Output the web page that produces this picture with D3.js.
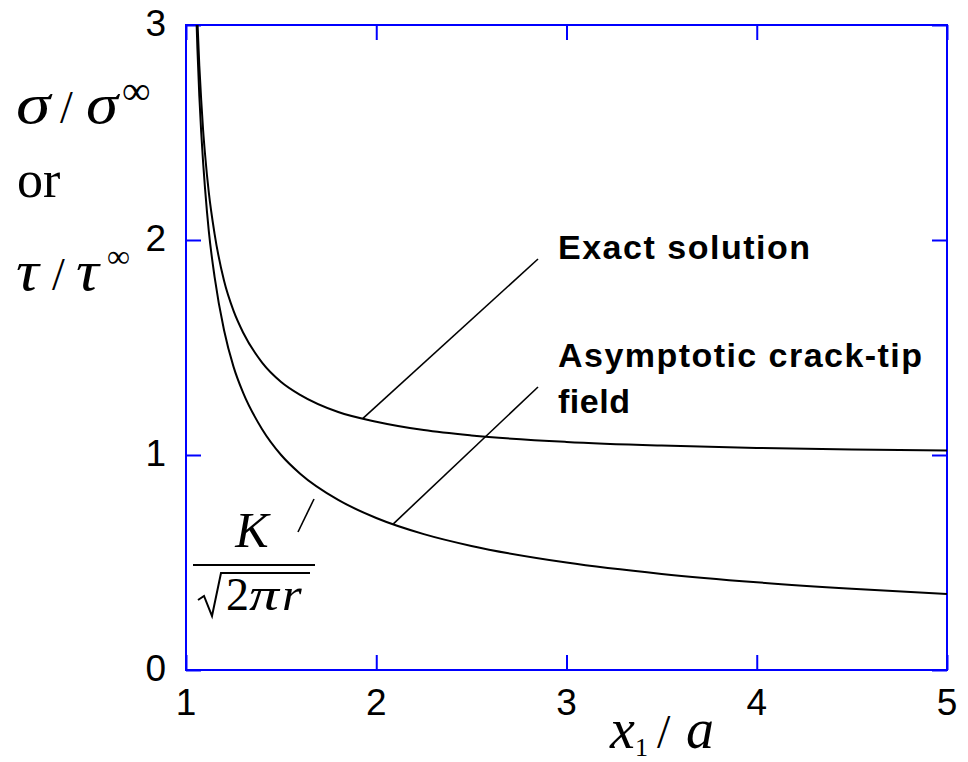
<!DOCTYPE html>
<html>
<head>
<meta charset="utf-8">
<script src="https://cdn.jsdelivr.net/npm/d3@7/dist/d3.min.js"></script>
<style>
  html, body { margin: 0; padding: 0; background: #fff; }
  svg { display: block; }
  .tick-label { font-family: "Liberation Sans", Arial, sans-serif; font-size: 37px; fill: #000; }
  .math { font-family: "Liberation Serif", "Times New Roman", serif; fill: #000; }
  .note { font-family: "Liberation Sans", Arial, sans-serif; font-weight: bold; font-size: 34px; fill: #000; }
</style>
</head>
<body>
<svg id="chart" width="968" height="762"></svg>
<script>
// Normalised distance ahead of the crack tip, x1/a
const xPoints = [1.061, 1.07, 1.08, 1.09, 1.10, 1.12, 1.15, 1.20, 1.25, 1.30, 1.40, 1.50,
                 1.60, 1.80, 2.00, 2.25, 2.50, 3.00, 3.50, 4.00, 4.50, 5.00];
// Exact stress ratio sigma/sigma_inf along the crack line
const exactValues = [3.00, 2.81, 2.65, 2.51, 2.40, 2.22, 2.03, 1.81, 1.67, 1.57, 1.43, 1.34,
                     1.28, 1.20, 1.155, 1.116, 1.091, 1.061, 1.044, 1.033, 1.026, 1.021];
// Asymptotic crack-tip field K / sqrt(2 pi r)
const asymXPoints = [1.056, 1.06, 1.07, 1.08, 1.09, 1.10, 1.12, 1.15, 1.20, 1.25, 1.30, 1.40, 1.50,
                     1.60, 1.80, 2.00, 2.25, 2.50, 3.00, 3.50, 4.00, 4.50, 5.00];
const asymValues = [3.00, 2.89, 2.67, 2.50, 2.36, 2.24, 2.04, 1.83, 1.58, 1.41, 1.29, 1.12, 1.00,
                    0.913, 0.791, 0.707, 0.632, 0.577, 0.500, 0.447, 0.408, 0.378, 0.354];

const xTicks = [1, 2, 3, 4, 5];
const yTicks = [0, 1, 2, 3];

const svg = d3.select("#chart");
const plot = { left: 186, right: 947, top: 25, bottom: 670 };

const x = d3.scaleLinear().domain([1, 5]).range([plot.left, plot.right]);
const y = d3.scaleLinear().domain([0, 3]).range([plot.bottom, plot.top]);

const blue = "#0000ff";
const tickLen = 15;

// Frame
svg.append("rect")
  .attr("x", plot.left).attr("y", plot.top)
  .attr("width", plot.right - plot.left).attr("height", plot.bottom - plot.top)
  .attr("fill", "none").attr("stroke", blue).attr("stroke-width", 2);

// Inward ticks on all four sides
const axes = [
  d3.axisBottom(x).tickValues(xTicks).tickSize(-tickLen).tickFormat(""),
  d3.axisTop(x).tickValues(xTicks).tickSize(-tickLen).tickFormat(""),
  d3.axisLeft(y).tickValues(yTicks).tickSize(-tickLen).tickFormat(""),
  d3.axisRight(y).tickValues(yTicks).tickSize(-tickLen).tickFormat("")
];
const pos = [`translate(0,${plot.bottom})`, `translate(0,${plot.top})`,
             `translate(${plot.left},0)`, `translate(${plot.right},0)`];
axes.forEach((ax, i) => {
  const g = svg.append("g").attr("transform", pos[i]).call(ax);
  g.select(".domain").remove();
  g.selectAll(".tick line").attr("stroke", blue).attr("stroke-width", 2);
});

// Tick labels
svg.append("g").selectAll("text").data(xTicks).join("text")
  .attr("class", "tick-label")
  .attr("x", d => x(d)).attr("y", 715)
  .attr("text-anchor", "middle")
  .text(d => d);

svg.append("g").selectAll("text").data(yTicks).join("text")
  .attr("class", "tick-label")
  .attr("x", 166).attr("y", d => y(d) + 11)
  .attr("text-anchor", "end")
  .text(d => d);

// Curves
const line = d3.line().curve(d3.curveMonotoneX);
const exactPts = xPoints.map((v, i) => [x(v), y(exactValues[i])]);
const asymPts = asymXPoints.map((v, i) => [x(v), y(asymValues[i])]);

svg.append("path").attr("d", line(exactPts))
  .attr("fill", "none").attr("stroke", "#000").attr("stroke-width", 2);
svg.append("path").attr("d", line(asymPts))
  .attr("fill", "none").attr("stroke", "#000").attr("stroke-width", 2);

// Leader lines for the annotations (anchored on the curves at x1/a = 1.93 and 2.09)
const leaders = [
  { from: [1.93, 1.17], to: [538, 259] },
  { from: [2.09, 0.68], to: [538, 387] }
];
leaders.forEach(l => {
  svg.append("line")
    .attr("x1", x(l.from[0])).attr("y1", y(l.from[1]))
    .attr("x2", l.to[0]).attr("y2", l.to[1])
    .attr("stroke", "#000").attr("stroke-width", 1.6);
});
// Short leader toward the asymptotic-field formula
svg.append("line")
  .attr("x1", 298).attr("y1", 532).attr("x2", 314).attr("y2", 499)
  .attr("stroke", "#000").attr("stroke-width", 1.6);

// Annotations
svg.append("text").attr("class", "note").attr("x", 558).attr("y", 259)
  .attr("textLength", 252).attr("lengthAdjust", "spacing").text("Exact solution");
svg.append("text").attr("class", "note").attr("x", 558).attr("y", 367)
  .attr("textLength", 364).attr("lengthAdjust", "spacing").text("Asymptotic crack-tip");
svg.append("text").attr("class", "note").attr("x", 558).attr("y", 413)
  .attr("textLength", 72).attr("lengthAdjust", "spacing").text("field");

// Helper: one math glyph, optionally stretched horizontally
function glyph(g, txt, gx, gy, size, italic, sx) {
  return g.append("text")
    .attr("transform", `translate(${gx},${gy}) scale(${sx || 1},1)`)
    .attr("font-size", size)
    .attr("font-style", italic ? "italic" : "normal")
    .text(txt);
}

// Y-axis title: sigma / sigma_inf  or  tau / tau_inf
const yt = svg.append("g").attr("class", "math");
glyph(yt, "σ", 16, 123, 58, true, 1.2);
glyph(yt, "/", 60, 123, 46, false);
glyph(yt, "σ", 86, 123, 58, true, 1.12);
glyph(yt, "∞", 122, 104, 40, false);
glyph(yt, "or", 17, 197, 52, false);
glyph(yt, "τ", 16, 290, 58, true, 1.1);
glyph(yt, "/", 52, 290, 46, false);
glyph(yt, "τ", 76, 290, 58, true, 1.1);
glyph(yt, "∞", 107, 267, 32, false);

// X-axis title: x_1 / a
const xt = svg.append("g").attr("class", "math");
glyph(xt, "x", 610, 748, 56, true);
glyph(xt, "1", 635, 756, 26, false);
glyph(xt, "/", 657, 748, 48, false);
glyph(xt, "a", 686, 748, 56, true);

// K / sqrt(2 pi r)
const kf = svg.append("g").attr("class", "math");
kf.append("text").attr("x", 252).attr("y", 547).attr("font-size", 50)
  .attr("font-style", "italic").attr("text-anchor", "middle").text("K");
kf.append("line").attr("x1", 193).attr("x2", 315).attr("y1", 565).attr("y2", 565)
  .attr("stroke", "#000").attr("stroke-width", 2);
kf.append("path")
  .attr("d", "M198,600 L204,596 L212,616 L221,573 L310,573")
  .attr("fill", "none").attr("stroke", "#000").attr("stroke-width", 2);
glyph(kf, "2", 226, 610, 46, false);
glyph(kf, "π", 249, 610, 46, true, 1.3);
glyph(kf, "r", 282, 610, 46, true, 1.1);
</script>
</body>
</html>
